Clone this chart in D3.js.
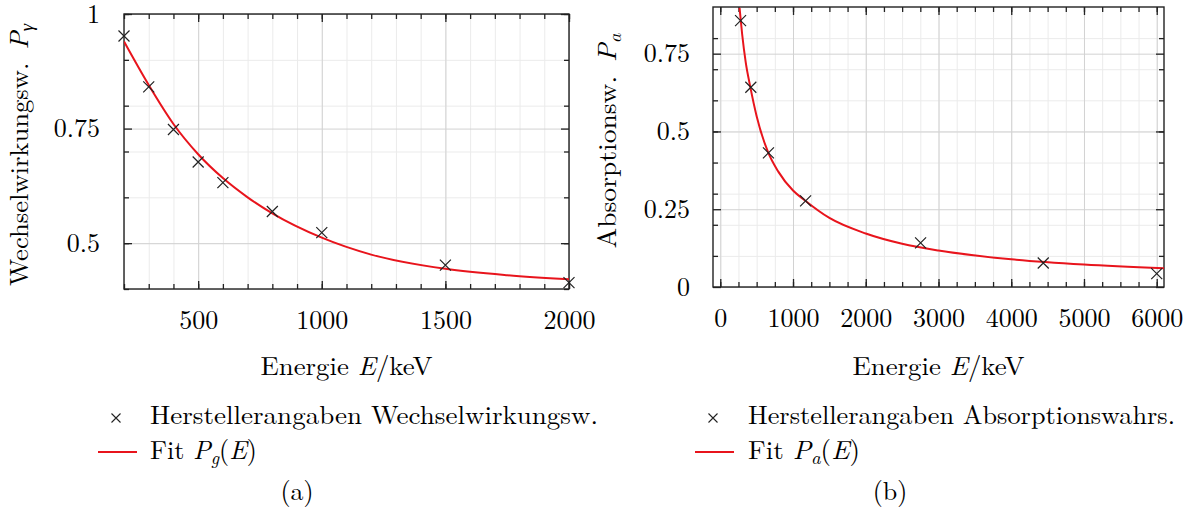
<!DOCTYPE html>
<html>
<head>
<meta charset="utf-8">
<script src="https://cdn.jsdelivr.net/npm/d3@7"></script>
<style>
  body { margin: 0; background: #fff; }
  svg text { fill: #000; }
</style>
</head>
<body>
<svg id="chart" width="1195" height="513"></svg>
<script>
// (a) Wechselwirkungswahrscheinlichkeit
var gammaEnergies = [200, 300, 400, 500, 600, 800, 1000, 1500, 2000];
var gammaProb = [0.952, 0.841, 0.748, 0.677, 0.632, 0.569, 0.523, 0.452, 0.414];
var gammaFitEnergies = [200, 300, 400, 500, 600, 700, 800, 1000, 1200, 1500, 1750, 2000];
var gammaFitProb = [0.940, 0.845, 0.760, 0.694, 0.642, 0.600, 0.565, 0.512, 0.475, 0.444, 0.430, 0.421];

// (b) Absorptionswahrscheinlichkeit
var absEnergies = [279, 420, 662, 1173, 2754, 4440, 6000];
var absProb = [0.856, 0.642, 0.431, 0.277, 0.142, 0.077, 0.043];
var absFitEnergies = [265, 300, 350, 412, 500, 654, 800, 1000, 1160, 1500, 2000, 2500, 3000, 4000, 5000, 6100];
var absFitProb = [0.897, 0.814, 0.722, 0.644, 0.549, 0.435, 0.370, 0.310, 0.279, 0.222, 0.172, 0.139, 0.117, 0.089, 0.072, 0.060];

// ticks
var gammaXTicks = [500, 1000, 1500, 2000];
var gammaXMinor = d3.range(200, 2001, 100);
var gammaYTicks = [0.5, 0.75, 1];
var gammaYMinor = [0.4, 0.5, 0.6, 0.7, 0.8, 0.9, 1];
var absXTicks = [0, 1000, 2000, 3000, 4000, 5000, 6000];
var absXMinor = d3.range(0, 6001, 250);
var absYTicks = [0, 0.25, 0.5, 0.75];
var absYMinor = [0.1, 0.2, 0.3, 0.4, 0.5, 0.6, 0.7, 0.8];

var FONT = 26;

// pick the first serif face that is really installed
function pickFont(list) {
  var ctx = document.createElement('canvas').getContext('2d');
  var probe = 'abcdefghijklmnopqrstuvwxyz WMQ 0123456789';
  function width(f) { ctx.font = '72px ' + f; return ctx.measureText(probe).width; }
  var base1 = width('monospace'), base2 = width('sans-serif');
  for (var i = 0; i < list.length; i++) {
    var f = '"' + list[i] + '"';
    if (width(f + ', monospace') !== base1 || width(f + ', sans-serif') !== base2) return f;
  }
  return 'serif';
}
var serifFont = pickFont(['Latin Modern Roman', 'CMU Serif', 'Liberation Serif', 'Tinos',
  'Times New Roman', 'Nimbus Roman', 'DejaVu Serif', 'Noto Serif', 'FreeSerif']);

var svg = d3.select('#chart').attr('font-family', serifFont);

function drawPanel(opt) {
  var w = opt.right - opt.left, h = opt.bottom - opt.top;
  var x = d3.scaleLinear().domain(opt.xDomain).range([0, w]);
  var y = d3.scaleLinear().domain(opt.yDomain).range([h, 0]);

  var g = svg.append('g').attr('transform', 'translate(' + opt.left + ',' + opt.top + ')');

  // grid
  function grid(axis, cls, color) {
    var gg = g.append('g').attr('class', cls).call(axis);
    gg.select('.domain').remove();
    gg.selectAll('line').attr('stroke', color).attr('stroke-width', 1);
    gg.selectAll('text').remove();
    return gg;
  }
  grid(d3.axisBottom(x).tickValues(opt.xMinor).tickSize(-h).tickFormat(''), 'gx-minor', '#ebebeb')
    .attr('transform', 'translate(0,' + h + ')');
  grid(d3.axisLeft(y).tickValues(opt.yMinor).tickSize(-w).tickFormat(''), 'gy-minor', '#ebebeb');
  grid(d3.axisBottom(x).tickValues(opt.xTicks).tickSize(-h).tickFormat(''), 'gx-major', '#d2d2d2')
    .attr('transform', 'translate(0,' + h + ')');
  grid(d3.axisLeft(y).tickValues(opt.yTicks).tickSize(-w).tickFormat(''), 'gy-major', '#d2d2d2');

  // inward ticks on all four sides
  function ticks(axis, tx, ty) {
    var a = g.append('g').attr('transform', 'translate(' + tx + ',' + ty + ')').call(axis);
    a.select('.domain').remove();
    a.selectAll('line').attr('stroke', '#222').attr('stroke-width', 1.3);
    a.attr('font-size', FONT).attr('font-family', serifFont);
    return a;
  }
  ticks(d3.axisBottom(x).tickValues(opt.xMinor).tickSize(-5).tickFormat(''), 0, h);
  ticks(d3.axisTop(x).tickValues(opt.xMinor).tickSize(-5).tickFormat(''), 0, 0);
  ticks(d3.axisLeft(y).tickValues(opt.yMinor).tickSize(-5).tickFormat(''), 0, 0);
  ticks(d3.axisRight(y).tickValues(opt.yMinor).tickSize(-5).tickFormat(''), w, 0);
  ticks(d3.axisTop(x).tickValues(opt.xTicks).tickSize(-8).tickFormat(''), 0, 0);
  ticks(d3.axisRight(y).tickValues(opt.yTicks).tickSize(-8).tickFormat(''), w, 0);
  ticks(d3.axisBottom(x).tickValues(opt.xTicks).tickSizeInner(-8).tickSizeOuter(0)
    .tickPadding(22).tickFormat(function(d) { return String(d); }), 0, h);
  ticks(d3.axisLeft(y).tickValues(opt.yTicks).tickSizeInner(-8).tickSizeOuter(0)
    .tickPadding(opt.yPad).tickFormat(function(d) { return String(d); }), 0, 0);

  // frame
  g.append('rect').attr('width', w).attr('height', h)
    .attr('fill', 'none').attr('stroke', '#222').attr('stroke-width', 1.4);

  // fit curve
  var clipId = 'clip-' + opt.id;
  g.append('clipPath').attr('id', clipId).append('rect').attr('width', w).attr('height', h);
  var fit = opt.fitX.map(function(d, i) { return [d, opt.fitY[i]]; });
  var line = d3.line()
    .x(function(d) { return x(d[0]); })
    .y(function(d) { return y(d[1]); })
    .curve(d3.curveMonotoneX);
  g.append('path').datum(fit)
    .attr('clip-path', 'url(#' + clipId + ')')
    .attr('d', line)
    .attr('fill', 'none').attr('stroke', '#e8141c').attr('stroke-width', 2);

  // data crosses
  var pts = opt.dataX.map(function(d, i) { return [d, opt.dataY[i]]; });
  g.selectAll('.cross').data(pts).enter().append('path')
    .attr('class', 'cross')
    .attr('transform', function(d) { return 'translate(' + x(d[0]) + ',' + y(d[1]) + ')'; })
    .attr('d', 'M-5.5,-5.5L5.5,5.5M-5.5,5.5L5.5,-5.5')
    .attr('stroke', '#222').attr('stroke-width', 1.2).attr('fill', 'none');

  // axis labels
  var xl = svg.append('text')
    .attr('x', (opt.left + opt.right) / 2).attr('y', 375)
    .attr('text-anchor', 'middle').attr('font-size', FONT)
    .attr('textLength', 172).attr('lengthAdjust', 'spacingAndGlyphs');
  xl.append('tspan').text('Energie ');
  xl.append('tspan').attr('font-style', 'italic').text('E');
  xl.append('tspan').text('/keV');

  var yl = svg.append('text')
    .attr('transform', 'translate(' + opt.ylX + ',' + opt.ylY + ') rotate(-90)')
    .attr('text-anchor', 'middle').attr('font-size', FONT)
    .attr('textLength', opt.ylLen).attr('lengthAdjust', 'spacingAndGlyphs');
  yl.append('tspan').text(opt.yLabel + '\u2002');
  yl.append('tspan').attr('font-style', 'italic').text('P');
  yl.append('tspan').attr('font-style', 'italic').attr('font-size', FONT * 0.7)
    .attr('dy', 5).text(opt.ySub);

  // legend
  var lg = svg.append('g');
  lg.append('path')
    .attr('transform', 'translate(' + opt.legX + ',418)')
    .attr('d', 'M-4.5,-4.5L4.5,4.5M-4.5,4.5L4.5,-4.5')
    .attr('stroke', '#222').attr('stroke-width', 1.1);
  lg.append('text').attr('x', opt.legText).attr('y', 424).attr('font-size', FONT)
    .attr('textLength', opt.legLen).attr('lengthAdjust', 'spacingAndGlyphs')
    .text(opt.legLabel);
  lg.append('line')
    .attr('x1', opt.legX - 18).attr('x2', opt.legX + 21)
    .attr('y1', 452).attr('y2', 452)
    .attr('stroke', '#e8141c').attr('stroke-width', 2);
  var ft = lg.append('text').attr('x', opt.legText).attr('y', 459).attr('font-size', FONT)
    .attr('textLength', opt.fitLen).attr('lengthAdjust', 'spacingAndGlyphs');
  ft.append('tspan').text('Fit ');
  ft.append('tspan').attr('font-style', 'italic').text('P');
  ft.append('tspan').attr('font-style', 'italic').attr('font-size', FONT * 0.7).attr('dy', 5).text(opt.fitSub);
  ft.append('tspan').attr('dy', -5).text('(');
  ft.append('tspan').attr('font-style', 'italic').text('E');
  ft.append('tspan').text(')');

  svg.append('text').attr('x', opt.capX).attr('y', 500)
    .attr('text-anchor', 'middle').attr('font-size', FONT).text(opt.caption);
}

drawPanel({
  id: 'a', left: 124, right: 569, top: 14, bottom: 289,
  xDomain: [200, 2000], yDomain: [0.4, 1],
  xTicks: gammaXTicks, xMinor: gammaXMinor, yTicks: gammaYTicks, yMinor: gammaYMinor,
  yPad: 24,
  dataX: gammaEnergies, dataY: gammaProb,
  fitX: gammaFitEnergies, fitY: gammaFitProb,
  yLabel: 'Wechselwirkungsw.', ySub: '\u03b3', ylX: 28, ylY: 155, ylLen: 262,
  legX: 116, legText: 150, legLen: 448, legLabel: 'Herstellerangaben Wechselwirkungsw.',
  fitSub: 'g', fitLen: 107, capX: 297, caption: '(a)'
});

drawPanel({
  id: 'b', left: 713, right: 1164, top: 7, bottom: 287,
  xDomain: [-100, 6100], yDomain: [0, 0.9],
  xTicks: absXTicks, xMinor: absXMinor, yTicks: absYTicks, yMinor: absYMinor,
  yPad: 23,
  dataX: absEnergies, dataY: absProb,
  fitX: absFitEnergies, fitY: absFitProb,
  yLabel: 'Absorptionsw.', ySub: 'a', ylX: 616, ylY: 141, ylLen: 215,
  legX: 713, legText: 748, legLen: 427, legLabel: 'Herstellerangaben Absorptionswahrs.',
  fitSub: 'a', fitLen: 112, capX: 890, caption: '(b)'
});
</script>
</body>
</html>
